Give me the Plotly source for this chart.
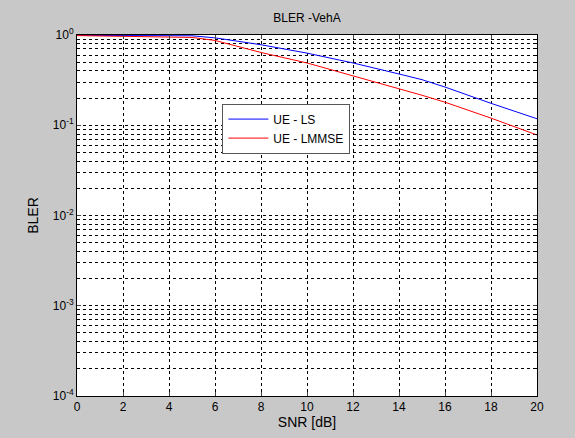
import plotly.graph_objects as go

snr = [0, 2, 4, 5, 6, 8, 10, 12, 14, 15, 16, 18, 20]
bler_ls = [0.99, 0.99, 0.985, 0.98, 0.93, 0.78, 0.63, 0.49, 0.37, 0.32, 0.265, 0.175, 0.118]
bler_lmmse = [0.985, 0.965, 0.95, 0.94, 0.87, 0.64, 0.49, 0.355, 0.255, 0.215, 0.18, 0.12, 0.078]

ytick_vals = [1e-4, 1e-3, 1e-2, 1e-1, 1]
ytick_text = ["10<sup>-4</sup>", "10<sup>-3</sup>", "10<sup>-2</sup>", "10<sup>-1</sup>", "10<sup>0</sup>"]
xtick_vals = [0, 2, 4, 6, 8, 10, 12, 14, 16, 18, 20]

fig = go.Figure()
fig.add_trace(go.Scatter(x=snr, y=bler_ls, mode="lines", name="UE - LS",
                         line=dict(color="#0000ff", width=1)))
fig.add_trace(go.Scatter(x=snr, y=bler_lmmse, mode="lines", name="UE - LMMSE",
                         line=dict(color="#ff0000", width=1)))

font = dict(family="Liberation Sans, Arial, sans-serif", size=12, color="black")
dash = "3px,3px"

fig.update_layout(
    width=575, height=438,
    margin=dict(l=77, r=38, t=35, b=33),
    paper_bgcolor="#c8c8c8",
    plot_bgcolor="white",
    font=font,
    title=dict(text="BLER -VehA", x=0.5, xanchor="center", y=0.96, yanchor="middle",
               xref="paper", font=dict(size=12)),
    showlegend=True,
    legend=dict(x=0.316, y=0.81, xanchor="left", yanchor="top",
                bgcolor="white", bordercolor="#555555", borderwidth=1,
                font=dict(size=12), tracegroupgap=0, itemwidth=40),
    xaxis=dict(
        range=[0, 20], tickvals=xtick_vals, ticks="inside", ticklen=4,
        showline=True, linecolor="black", linewidth=1, mirror="ticks",
        showgrid=True, gridcolor="black", griddash=dash, gridwidth=1,
        zeroline=False,
        title=dict(text="SNR [dB]", standoff=2),
    ),
    yaxis=dict(
        type="log", range=[-4, 0], tickvals=ytick_vals, ticktext=ytick_text,
        ticks="inside", ticklen=4,
        showline=True, linecolor="black", linewidth=1, mirror="ticks",
        showgrid=True, gridcolor="black", griddash=dash, gridwidth=1,
        zeroline=False,
        minor=dict(dtick="D1", showgrid=True, gridcolor="black", griddash=dash,
                   gridwidth=1, ticks="inside", ticklen=2, tickcolor="black"),
        title=dict(text="BLER", standoff=10),
    ),
)

fig.write_html("out.html")
